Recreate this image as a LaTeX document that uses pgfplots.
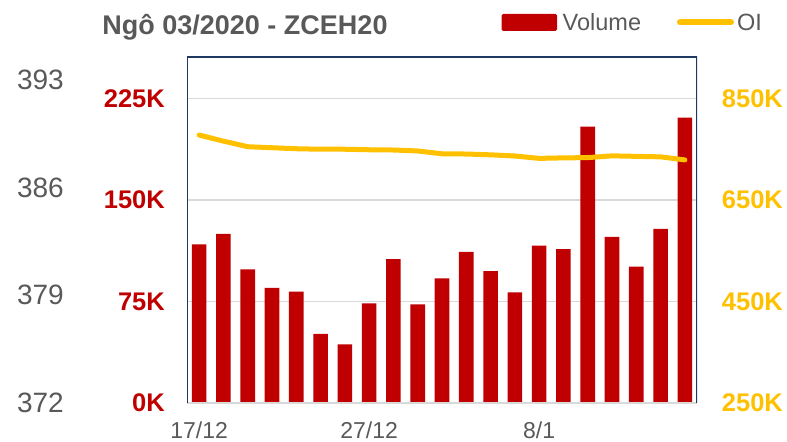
\documentclass[border=0pt]{standalone}
\usepackage{fontspec}
\setmainfont{Liberation Sans}
\usepackage{pgfplots}
\pgfplotsset{compat=1.18}
\definecolor{barred}{HTML}{C00000}
\definecolor{oiyellow}{HTML}{FFC000}
\definecolor{txtgray}{HTML}{595959}
\definecolor{gridgray}{HTML}{D9D9D9}
\definecolor{framenavy}{HTML}{1F3864}

\pgfplotsset{
  base/.style={
    at={(187bp,39bp)}, anchor=south west,
    scale only axis, width=510bp, height=346bp,
    xmin=-0.5, xmax=20.5,
    axis line style={draw=none},
    major tick length=0pt, tick style={draw=none},
  },
}

\begin{document}
\begin{tikzpicture}[x=1bp,y=1bp]
\path[use as bounding box] (0,0) rectangle (787,442);

% gray price scale on the far left (no series shown)
\begin{axis}[base,
  hide x axis,
  ymin=372, ymax=394.5,
  ytick={372,379,386,393}, yticklabels={372,379,386,393},
  yticklabel style={anchor=east, inner sep=0pt, xshift=-123bp,
    font=\fontsize{28bp}{32bp}\selectfont, text=txtgray},
]
\end{axis}

% volume bars
\begin{axis}[base,
  ymin=0, ymax=255.7,
  ytick={0,75,150,225}, yticklabels={0K,75K,150K,225K},
  yticklabel style={anchor=east, inner sep=0pt, xshift=-22bp,
    font=\bfseries\fontsize{25.5bp}{30bp}\selectfont, text=barred},
  xtick={0,7,14}, xticklabels={17/12,27/12,8/1},
  xticklabel style={anchor=north, inner sep=0pt, yshift=-18.5bp,
    font=\fontsize{23bp}{27bp}\selectfont, text=txtgray},
  ymajorgrids, grid style={draw=gridgray, line width=1.5bp},
]
\addplot[ybar, bar width=14.6bp, fill=barred, draw=none] coordinates {
  (0,117.3) (1,124.9) (2,98.8) (3,85.0) (4,82.3) (5,51.0) (6,43.3)
  (7,73.6) (8,106.4) (9,72.9) (10,92.1) (11,111.6) (12,97.5) (13,81.8)
  (14,116.3) (15,113.8) (16,204.2) (17,122.7) (18,100.7) (19,128.6) (20,210.8)};
\draw[gridgray, line width=2bp] (rel axis cs:0,0) -- (rel axis cs:1,0);
\draw[framenavy, line width=1.3bp] (rel axis cs:0,0) -- (rel axis cs:0,1)
  -- (rel axis cs:1,1) -- (rel axis cs:1,0);
\end{axis}

% open interest line
\begin{axis}[base,
  hide x axis,
  ymin=250, ymax=931.8,
  ytick={250,450,650,850}, yticklabels={250K,450K,650K,850K},
  yticklabel pos=right,
  yticklabel style={anchor=west, inner sep=0pt, xshift=24.7bp,
    font=\bfseries\fontsize{25.5bp}{30bp}\selectfont, text=oiyellow},
]
\addplot[oiyellow, line width=5bp, line cap=round, line join=round, mark=none] coordinates {
  (0,778) (1,766) (2,755) (3,753) (4,751) (5,750) (6,750)
  (7,749) (8,748.5) (9,746.6) (10,741) (11,740.6) (12,739) (13,736.7)
  (14,732) (15,733) (16,733.5) (17,737) (18,736) (19,735) (20,729)};
\end{axis}

% title and legend
\node[anchor=base, inner sep=0pt, text=txtgray,
  font=\bfseries\fontsize{27bp}{31bp}\selectfont] at (245,407.7) {Ngô 03/2020 - ZCEH20};
\fill[barred, rounded corners=1.5bp] (501.7,411) rectangle (557,428);
\node[anchor=base west, inner sep=0pt, text=txtgray,
  font=\fontsize{23.5bp}{27bp}\selectfont] at (562.5,411) {Volume};
\draw[oiyellow, line width=6bp, line cap=round] (680,419.5) -- (731,419.5);
\node[anchor=base west, inner sep=0pt, text=txtgray,
  font=\fontsize{23.5bp}{27bp}\selectfont] at (737,411) {OI};
\end{tikzpicture}
\end{document}
